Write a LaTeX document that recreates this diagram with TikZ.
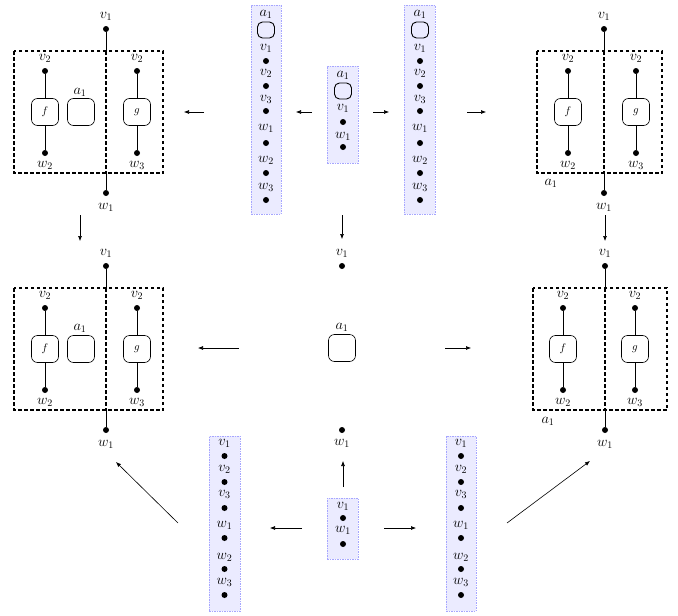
\documentclass[tikz,border=0pt]{standalone}
\usetikzlibrary{arrows.meta}
\tikzset{
  dot/.style={circle,fill=black,inner sep=0pt,minimum size=6pt},
  lab/.style={inner sep=0pt,font=\fontsize{14.4}{17}\selectfont},
  fbox/.style={draw,rounded corners=6pt,minimum size=27pt,inner sep=0pt,line width=0.6pt,font=\fontsize{10.95}{13}\selectfont},
  sbox/.style={draw,rounded corners=5pt,minimum width=17pt,minimum height=16pt,inner sep=0pt,line width=0.9pt},
  conn/.style={line width=0.6pt},
  dashbox/.style={line width=1.1pt,dash pattern=on 3.5pt off 2.5pt},
  colbox/.style={fill=blue!8,draw=blue!35,dash pattern=on 1.5pt off 1pt,line width=0.6pt,inner sep=0pt},
  arr/.style={line width=0.6pt,-{Latex[length=5pt,width=4pt]}}
}
% #1 prefix, #2 vertical x, #3 f x, #4 g x, #5 box left, #6 box right
\newcommand\bigdiag[6]{%
  \node[dot] (#1v1) at (#2,29) {};
  \node[lab] (#1v1l) at (#2,16) {$v_1$};
  \node[dot] (#1w1) at (#2,193) {};
  \node[lab] (#1w1l) at (#2,207) {$w_1$};
  \coordinate (#1top) at (#2,51);
  \coordinate (#1bot) at (#2,173);
  \coordinate (#1nw) at (#5,51);
  \coordinate (#1se) at (#6,173);
  \draw[dashbox] (#1nw) rectangle (#1se);
  \draw[conn] (#1v1) -- (#1top);
  \draw[dashbox] (#1top) -- (#1bot);
  \draw[conn] (#1bot) -- (#1w1);
  \node[dot] (#1fv) at (#3,71) {};
  \node[lab] (#1fvl) at (#3,58) {$v_2$};
  \node[fbox] (#1f) at (#3,112) {$f$};
  \node[dot] (#1fw) at (#3,153) {};
  \node[lab] (#1fwl) at (#3,165) {$w_2$};
  \draw[conn] (#1fv) -- (#1f);
  \draw[conn] (#1f) -- (#1fw);
  \node[dot] (#1gv) at (#4,71) {};
  \node[lab] (#1gvl) at (#4,58) {$v_2$};
  \node[fbox] (#1g) at (#4,112) {$g$};
  \node[dot] (#1gw) at (#4,153) {};
  \node[lab] (#1gwl) at (#4,165) {$w_3$};
  \draw[conn] (#1gv) -- (#1g);
  \draw[conn] (#1g) -- (#1gw);
}
\begin{document}
\begin{tikzpicture}[x=1pt,y=-1pt]
\useasboundingbox (0,0) rectangle (678,616);

% ---------- top-left diagram
\bigdiag{tl}{106}{45}{137}{14}{163}
\node[fbox] (tla) at (81,112) {};
\node[lab] (tlal) at (80,92) {$a_1$};

% ---------- top-right diagram
\bigdiag{tr}{604}{568}{636}{537}{662}
\node[lab] (tral) at (551,183) {$a_1$};

% ---------- middle-left diagram
\begin{scope}[yshift=-237pt]
\bigdiag{ml}{106}{45}{137}{14}{163}
\node[fbox] (mla) at (81,112) {};
\node[lab] (mlal) at (80,91) {$a_1$};
\end{scope}

% ---------- middle-right diagram
\begin{scope}[yshift=-237pt]
\bigdiag{mr}{605}{563}{635}{533}{667}
\node[lab] (mral) at (548,184) {$a_1$};
\end{scope}

% ---------- middle centre
\node[dot] (mcv) at (342,266) {};
\node[lab] (mcvl) at (342,253) {$v_1$};
\node[fbox] (mca) at (342,348) {};
\node[lab] (mcal) at (342,327) {$a_1$};
\node[dot] (mcw) at (342,430) {};
\node[lab] (mcwl) at (342,443) {$w_1$};

% ---------- top columns
\node[colbox,minimum width=30pt,minimum height=209pt] (colTL) at (266,109.5) {};
\node[colbox,minimum width=31pt,minimum height=209pt] (colTR) at (419.5,109.5) {};
\node[colbox,minimum width=31pt,minimum height=97pt] (colTC) at (342.5,114.5) {};
\foreach \p/\x in {L/266,R/420}{
  \node[lab] (t\p a) at (\x,14) {$a_1$};
  \node[sbox] (t\p b) at (\x,30) {};
  \node[lab] (t\p l1) at (\x,48) {$v_1$};
  \node[dot] (t\p d1) at (\x,61) {};
  \node[lab] (t\p l2) at (\x,73) {$v_2$};
  \node[dot] (t\p d2) at (\x,86) {};
  \node[lab] (t\p l3) at (\x,99) {$v_3$};
  \node[dot] (t\p d3) at (\x,111) {};
  \node[lab] (t\p l4) at (\x,128) {$w_1$};
  \node[dot] (t\p d4) at (\x,143) {};
  \node[lab] (t\p l5) at (\x,160) {$w_2$};
  \node[dot] (t\p d5) at (\x,173) {};
  \node[lab] (t\p l6) at (\x,187) {$w_3$};
  \node[dot] (t\p d6) at (\x,200) {};
}
\node[lab] (tCa) at (343,75) {$a_1$};
\node[sbox] (tCb) at (343,91) {};
\node[lab] (tCl1) at (343,108) {$v_1$};
\node[dot] (tCd1) at (343,122) {};
\node[lab] (tCl2) at (343,136) {$w_1$};
\node[dot] (tCd2) at (343,147) {};

% ---------- bottom columns
\node[colbox,minimum width=31pt,minimum height=175pt] (colBL) at (224.5,523.5) {};
\node[colbox,minimum width=30pt,minimum height=175pt] (colBR) at (461,523.5) {};
\node[colbox,minimum width=31pt,minimum height=61pt] (colBC) at (342.5,528.5) {};
\foreach \p/\x in {L/224.5,R/461}{
  \node[lab] (b\p l1) at (\x,443) {$v_1$};
  \node[dot] (b\p d1) at (\x,456) {};
  \node[lab] (b\p l2) at (\x,469) {$v_2$};
  \node[dot] (b\p d2) at (\x,482) {};
  \node[lab] (b\p l3) at (\x,494) {$v_3$};
  \node[dot] (b\p d3) at (\x,508) {};
  \node[lab] (b\p l4) at (\x,525) {$w_1$};
  \node[dot] (b\p d4) at (\x,538) {};
  \node[lab] (b\p l5) at (\x,557) {$w_2$};
  \node[dot] (b\p d5) at (\x,569) {};
  \node[lab] (b\p l6) at (\x,582) {$w_3$};
  \node[dot] (b\p d6) at (\x,595) {};
}
\node[lab] (bCl1) at (343,506) {$v_1$};
\node[dot] (bCd1) at (343,518) {};
\node[lab] (bCl2) at (343,530) {$w_1$};
\node[dot] (bCd2) at (343,544) {};

% ---------- arrows
\coordinate (a1s) at (204,112); \coordinate (a1e) at (184,112);
\coordinate (a2s) at (312,112); \coordinate (a2e) at (296,112);
\coordinate (a3s) at (373,112); \coordinate (a3e) at (389,112);
\coordinate (a4s) at (467,112); \coordinate (a4e) at (486,112);
\coordinate (d1s) at (80,215);  \coordinate (d1e) at (80,241);
\coordinate (d2s) at (342,215); \coordinate (d2e) at (342,239);
\coordinate (d3s) at (605,215); \coordinate (d3e) at (605,241);
\coordinate (m1s) at (239,348); \coordinate (m1e) at (198,348);
\coordinate (m2s) at (445,348); \coordinate (m2e) at (471,348);
\coordinate (u1s) at (343,487); \coordinate (u1e) at (343,461);
\coordinate (b1s) at (302,528); \coordinate (b1e) at (270,528);
\coordinate (b2s) at (384,528); \coordinate (b2e) at (416,528);
\coordinate (g1s) at (178,523); \coordinate (g1e) at (116,462);
\coordinate (g2s) at (507,523); \coordinate (g2e) at (590,461);
\foreach \a in {a1,a2,a3,a4,d1,d2,d3,m1,m2,u1,b1,b2,g1,g2}
  \draw[arr] (\a s) -- (\a e);
\end{tikzpicture}
\end{document}
